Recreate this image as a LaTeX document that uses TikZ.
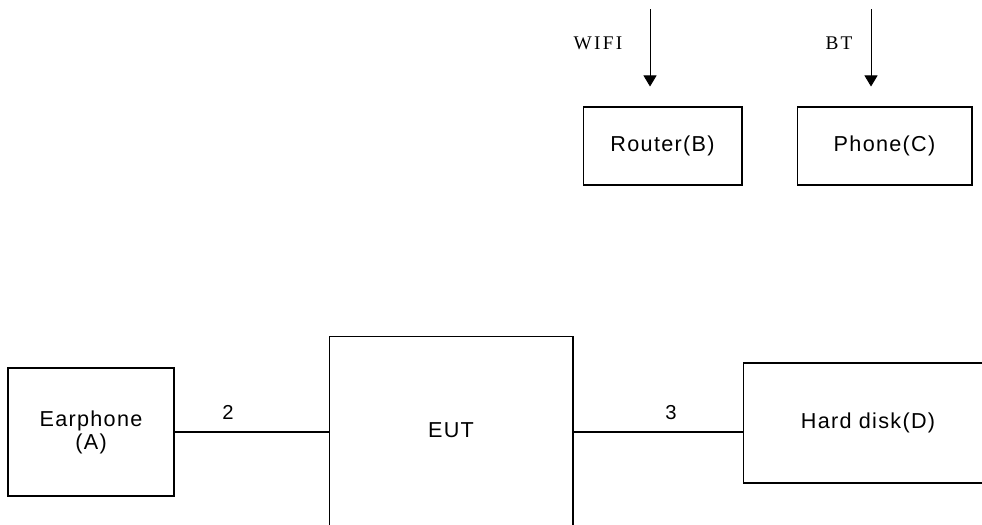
\documentclass[tikz,border=0pt]{standalone}
\usepackage{fontspec}
\setmainfont{Liberation Sans}[LetterSpace=6]
\newfontfamily\radiofont{Liberation Serif}[LetterSpace=12]
\usepackage{tikz}
\usetikzlibrary{arrows.meta}
\usetikzlibrary{calc}

\begin{document}
\begin{tikzpicture}[
			x=0.02cm, y=-0.02cm,
			line width=0.6pt,
			every node/.style={font=\fontsize{12.3}{13}\selectfont, inner sep=0pt, align=center},
			unit/.style={draw, line width=0.6pt},
			sig/.style={-{Triangle[width=0.26cm, length=0.22cm]}, line width=0.5pt, shorten >=0.4cm},
			radio/.style={font=\radiofont\fontsize{11}{13}\selectfont},
			port/.style={font=\fontsize{11.5}{12}\selectfont}
		]

		% page frame
		\useasboundingbox (0,0) rectangle (982,524);
		\clip (0,0) rectangle (982,524);

		% units at the top
		\node[unit, minimum width=3.18cm, minimum height=1.56cm] (router) at (662.5,146) {Router(B)};
		\node[unit, minimum width=3.5cm, minimum height=1.56cm] (phone) at (884.5,146) {Phone(C)};

		% radio inputs
		\coordinate (wifiin) at (650,9);
		\coordinate (btin) at (871,9);
		\draw[sig] (wifiin) -- (wifiin |- router.north);
		\draw[sig] (btin) -- (btin |- phone.north);
		\node[radio] (wifilabel) at (598,43) {WIFI};
		\node[radio] (btlabel) at (839,43) {BT};

		% units at the bottom (EUT runs off the page)
		\node[unit, minimum width=3.32cm, minimum height=2.56cm] (earphone) at (91,432) {Earphone\\(A)};
		\node[unit, minimum width=4.88cm, minimum height=4cm,
			label={[name=eutlabel, yshift=0.12cm]center:EUT}] (eut) at (451,436) {};
		\node[unit, minimum width=5cm, minimum height=2.4cm] (disk) at (868,423) {Hard disk(D)};

		% cables 2 and 3
		\draw (earphone.east) -- (earphone.east -| eut.west);
		\draw (earphone.east -| eut.east) -- (earphone.east -| disk.west);
		\draw[line width=1pt] ($(earphone.east -| disk.west)+(-26,0)$) -- (earphone.east -| disk.west);
		\node[port] (cable2) at (228,412) {2};
		\node[port] (cable3) at (671,413) {3};

	\end{tikzpicture}
\end{document}
